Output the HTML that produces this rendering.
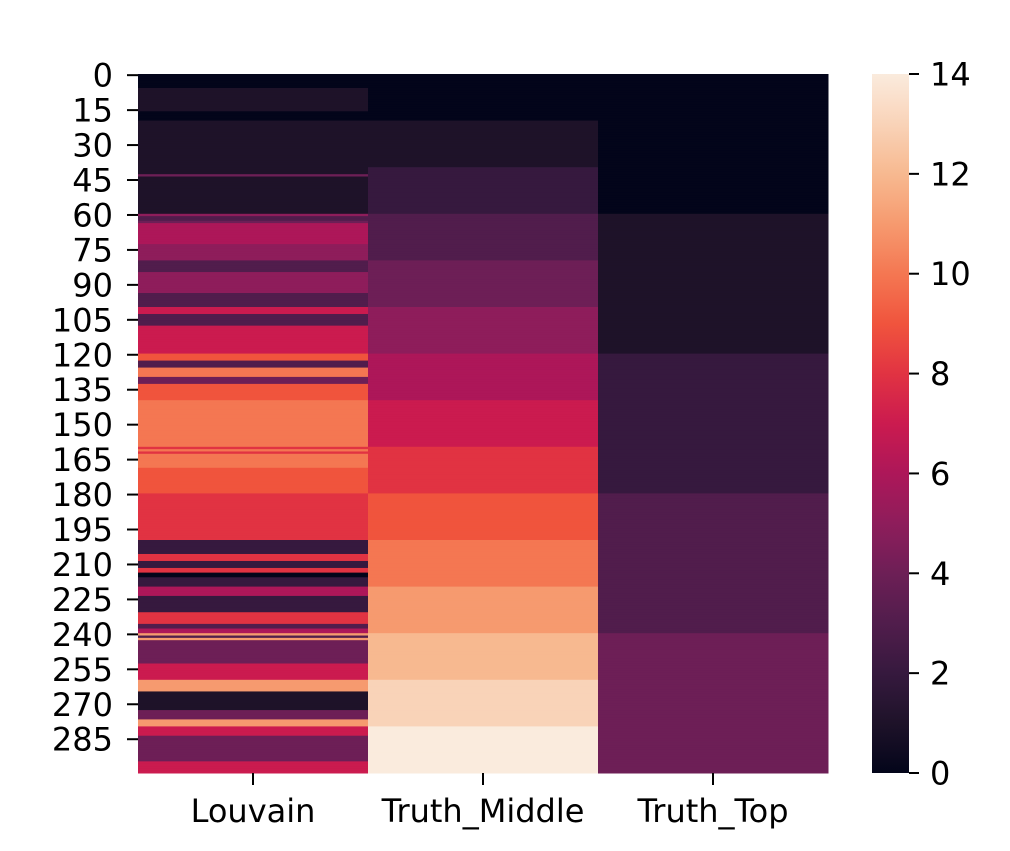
<!DOCTYPE html>
<html><head><meta charset="utf-8"><style>
body{margin:0;background:#fff;}
svg text{font-family:"DejaVu Sans","Liberation Sans",sans-serif;font-size:32px;fill:#000;}
</style></head><body>
<svg id="chart" width="1010" height="846" xmlns="http://www.w3.org/2000/svg">
<defs><linearGradient id="cbgrad" x1="0" y1="1" x2="0" y2="0"></linearGradient></defs>
<g id="cells"></g>
<g id="yaxis"></g>
<g id="xaxis"></g>
<g id="cbar"></g>
</svg>
<script>
const categories = ["Louvain","Truth_Middle","Truth_Top"];
const louvainRunStarts = [0,6,16,20,43,44,60,61,63,64,73,80,85,94,100,103,108,120,123,126,130,133,140,160,161,162,163,169,180,200,206,209,212,214,216,220,224,231,236,238,240,241,242,243,253,260,265,273,277,280,284,295];
const louvainRunValues = [0,1,0,1,4,1,5,3,4,6,5,3,5,3,7,3,7,9,3,10,4,9,10,8,10,8,10,9,8,2,8,2,8,0,2,6,2,8,3,6,11,3,11,4,7,11,1,4,11,7,4,7];
const middleBlock = 20, topBlock = 60;
const nRows = 300;
const yTicks = [0,15,30,45,60,75,90,105,120,135,150,165,180,195,210,225,240,255,270,285];
const cbTicks = [0,2,4,6,8,10,12,14];
const vmin = 0, vmax = 14;
const palette = ["#03051a","#1e1229","#36193e","#511d4c","#6d1f56","#8e1d5b","#ad1759","#cb1b4f","#e13342","#f0543d","#f47752","#f69a6f","#f7b990","#f9d3b8","#faebdd"];

function hex(c){return [1,3,5].map(i=>parseInt(c.substr(i,2),16));}
function color(v){
  let t=(v-vmin)/(vmax-vmin)*(palette.length-1);
  t=Math.max(0,Math.min(palette.length-1,t));
  const i=Math.floor(t), f=t-i;
  if(i>=palette.length-1) return palette[palette.length-1];
  const a=hex(palette[i]), b=hex(palette[i+1]);
  return "rgb("+a.map((x,k)=>Math.round(x+(b[k]-x)*f)).join(",")+")";
}
const X0=138, X1=828, Y0=74, Y1=773;
const colW=(X1-X0)/categories.length, rowH=(Y1-Y0)/nRows;
const xCol=i=>X0+i*colW, yRow=r=>Y0+r*rowH;
const NS="http://www.w3.org/2000/svg";
function mk(tag,attrs,parent){const e=document.createElementNS(NS,tag);for(const k in attrs)e.setAttribute(k,attrs[k]);parent.appendChild(e);return e;}

const louvainVals=[];
for(let r=0;r<nRows;r++){let v=0;for(let j=0;j<louvainRunStarts.length;j++){if(louvainRunStarts[j]<=r)v=louvainRunValues[j];}louvainVals.push(v);}
const middleVals=[],topVals=[];
for(let r=0;r<nRows;r++){middleVals.push(Math.floor(r/middleBlock));topVals.push(Math.floor(r/topBlock));}
const colData=[louvainVals,middleVals,topVals];
const cells=document.getElementById('cells');
colData.forEach((arr,ci)=>{
  arr.forEach((v,r)=>{
    const e=mk('rect',{x:xCol(ci),y:yRow(r),width:colW+0.5,height:rowH+0.5,fill:color(v)},cells);
    
    
  });
});
const ya=document.getElementById('yaxis');
yTicks.forEach(t=>{
  const y=yRow(t+0.5);
  const l=mk('line',{x1:X0-11,x2:X0,y1:y,y2:y,stroke:'#000','stroke-width':2},ya);
  
  
  const tx=mk('text',{x:X0-25,y:y+11.5,'text-anchor':'end'},ya);
  tx.textContent=t;
  
  
});
const xa=document.getElementById('xaxis');
categories.forEach((c,i)=>{
  const x=xCol(i+0.5);
  const l=mk('line',{x1:x,x2:x,y1:Y1,y2:Y1+12,stroke:'#000','stroke-width':2},xa);
  
  
  const tx=mk('text',{x:x,y:822,'text-anchor':'middle'},xa);
  tx.textContent=c;
  
  
});
const grad=document.getElementById('cbgrad');
for(let k=0;k<=28;k++){const v=vmin+(vmax-vmin)*k/28;mk('stop',{offset:(k/28),'stop-color':color(v)},grad);}
const cb=document.getElementById('cbar');
const CX0=872,CX1=909;
const cbY=v=>Y1-(v-vmin)/(vmax-vmin)*(Y1-Y0);
const cbRect=mk('rect',{x:CX0,y:Y0,width:CX1-CX0,height:Y1-Y0,fill:'url(#cbgrad)'},cb);


cbTicks.forEach(t=>{
  const y=cbY(t);
  const l=mk('line',{x1:CX1,x2:CX1+10,y1:y,y2:y,stroke:'#000','stroke-width':2},cb);
  
  
  const tx=mk('text',{x:930,y:y+11.5,'text-anchor':'start'},cb);
  tx.textContent=t;
  
  
});
</script>
</body></html>
